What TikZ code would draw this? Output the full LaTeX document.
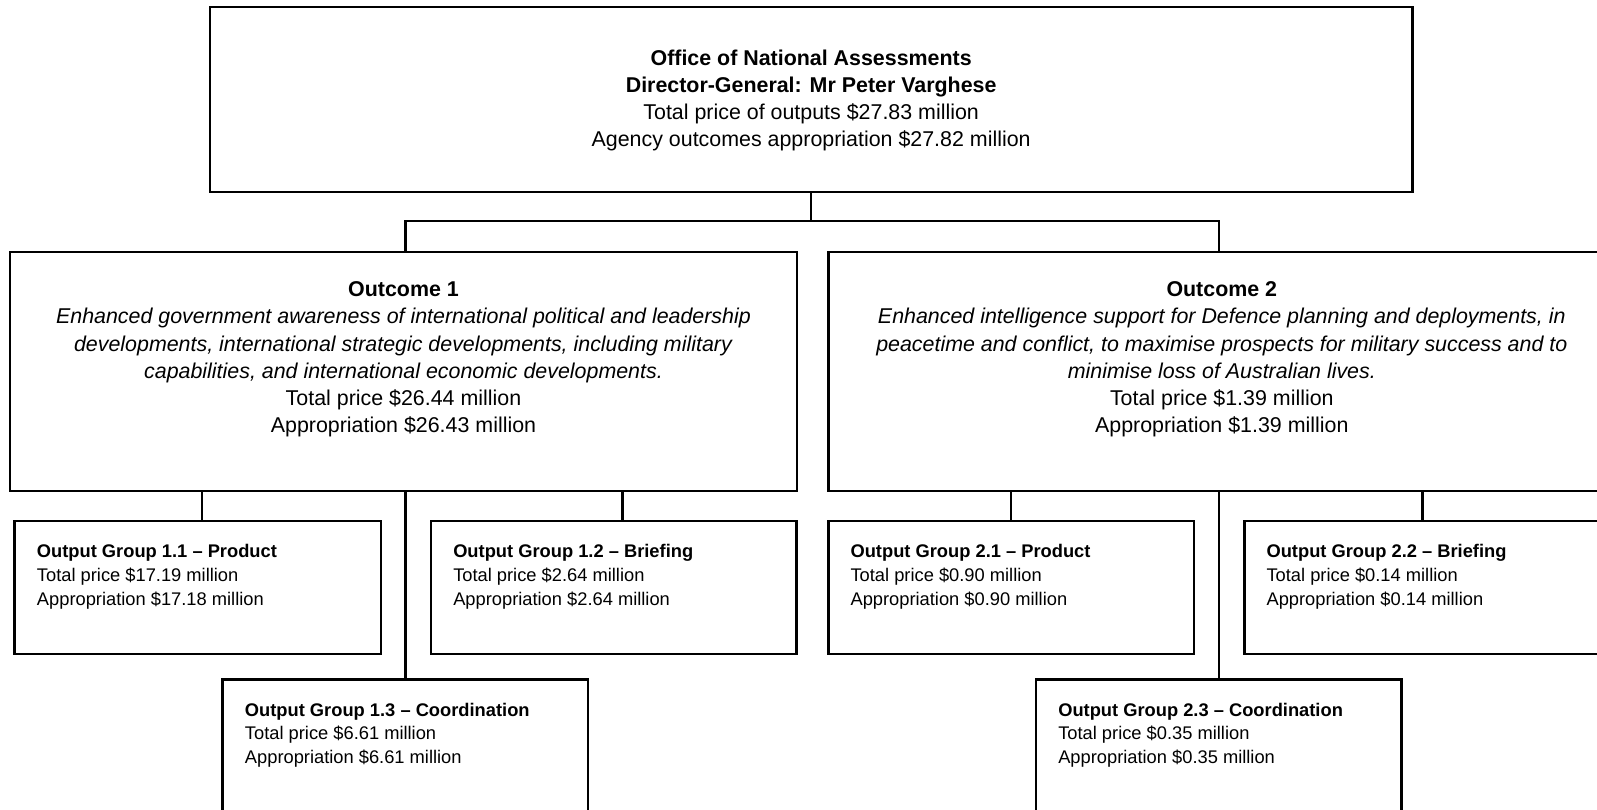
\documentclass[tikz,border=0pt]{standalone}
\usepackage{fontspec}
\setmainfont{Liberation Sans}
\usetikzlibrary{positioning}

\tikzset{every picture/.style={line width=2.5pt}}
\tikzset{
	orgbox/.style={draw, line width=2.5pt, inner sep=0pt, outer sep=0pt, anchor=north west},
	link/.style={line width=2.5pt},
	headtext/.style={font=\fontsize{21.4}{27.3}\selectfont, align=center, inner sep=0pt},
	grouptext/.style={font=\fontsize{18.3}{23.6}\selectfont, align=left, inner sep=0pt, anchor=north west}
}

\begin{document}
\begin{tikzpicture}[x=1pt,y=1pt,yscale=-1]
	\useasboundingbox (0,0) rectangle (1597,809);
	\clip (0,0) rectangle (1597,809);

	%Boxes
	\node[orgbox, minimum width=1202.3, minimum height=185] (ona) at (210,7) {};
	\node[orgbox, minimum width=787, minimum height=239] (out1) at (10,252) {};
	\node[orgbox, minimum width=787, minimum height=239] (out2) at (828.3,252) {};
	\node[orgbox, minimum width=366.3, minimum height=133] (og11) at (14.7,521) {};
	\node[orgbox, minimum width=365.7, minimum height=133] (og12) at (431,521) {};
	\node[orgbox, minimum width=365.3, minimum height=133] (og13) at (222.7,679.3) {};
	\node[orgbox, minimum width=365.7, minimum height=133] (og21) at (828.3,521) {};
	\node[orgbox, minimum width=366, minimum height=133] (og22) at (1244.3,521) {};
	\node[orgbox, minimum width=365.7, minimum height=133] (og23) at (1036,679.3) {};

	%Straight Lines
	\coordinate (fork) at (811.15,221);
	\draw[link] (ona.south) -- (fork);
	\draw[link] (out1.north -| og13.north) |- (fork) -| (out2.north -| og23.north);
	\draw[link] (og13.north) -- (og13.north |- out1.south);
	\draw[link] (og23.north) -- (og23.north |- out2.south);
	\draw[link] ([xshift=4pt]og11.north) -- ([xshift=4pt]og11.north |- out1.south);
	\draw[link] ([xshift=8.5pt]og12.north) -- ([xshift=8.5pt]og12.north |- out1.south);
	\draw[link] (og21.north) -- (og21.north |- out2.south);
	\draw[link] ([xshift=-4.6pt]og22.north) -- ([xshift=-4.6pt]og22.north |- out2.south);

	% Text Node
	\node[headtext] (onatext) at ([yshift=1pt]ona.center) {\textbf{Office of National Assessments}\\\textbf{Director-General: Mr Peter Varghese}\\Total price of outputs \$27.83 million\\Agency outcomes appropriation \$27.82 million};
	% Text Node
	\node[headtext, anchor=north] (out1text) at ([yshift=28.2pt]out1.north) {\textbf{Outcome 1}\\\textit{Enhanced government awareness of international political and leadership}\\\textit{developments, international strategic developments, including military}\\\textit{capabilities, and international economic developments.}\\Total price \$26.44 million\\Appropriation \$26.43 million};
	% Text Node
	\node[headtext, anchor=north] (out2text) at ([yshift=28.2pt]out2.north) {\textbf{Outcome 2}\\\textit{Enhanced intelligence support for Defence planning and deployments, in}\\\textit{peacetime and conflict, to maximise prospects for military success and to}\\\textit{minimise loss of Australian lives.}\\Total price \$1.39 million\\Appropriation \$1.39 million};

	% Text Node
	\node[grouptext] (og11text) at ([xshift=21pt,yshift=22.3pt]og11.north west) {\textbf{Output Group 1.1 – Product}\\Total price \$17.19 million\\Appropriation \$17.18 million};
	% Text Node
	\node[grouptext] (og12text) at ([xshift=21pt,yshift=22.3pt]og12.north west) {\textbf{Output Group 1.2 – Briefing}\\Total price \$2.64 million\\Appropriation \$2.64 million};
	% Text Node
	\node[grouptext] (og13text) at ([xshift=21pt,yshift=22.3pt]og13.north west) {\textbf{Output Group 1.3 – Coordination}\\Total price \$6.61 million\\Appropriation \$6.61 million};
	% Text Node
	\node[grouptext] (og21text) at ([xshift=21pt,yshift=22.3pt]og21.north west) {\textbf{Output Group 2.1 – Product}\\Total price \$0.90 million\\Appropriation \$0.90 million};
	% Text Node
	\node[grouptext] (og22text) at ([xshift=21pt,yshift=22.3pt]og22.north west) {\textbf{Output Group 2.2 – Briefing}\\Total price \$0.14 million\\Appropriation \$0.14 million};
	% Text Node
	\node[grouptext] (og23text) at ([xshift=21pt,yshift=22.3pt]og23.north west) {\textbf{Output Group 2.3 – Coordination}\\Total price \$0.35 million\\Appropriation \$0.35 million};

\end{tikzpicture}
\end{document}
